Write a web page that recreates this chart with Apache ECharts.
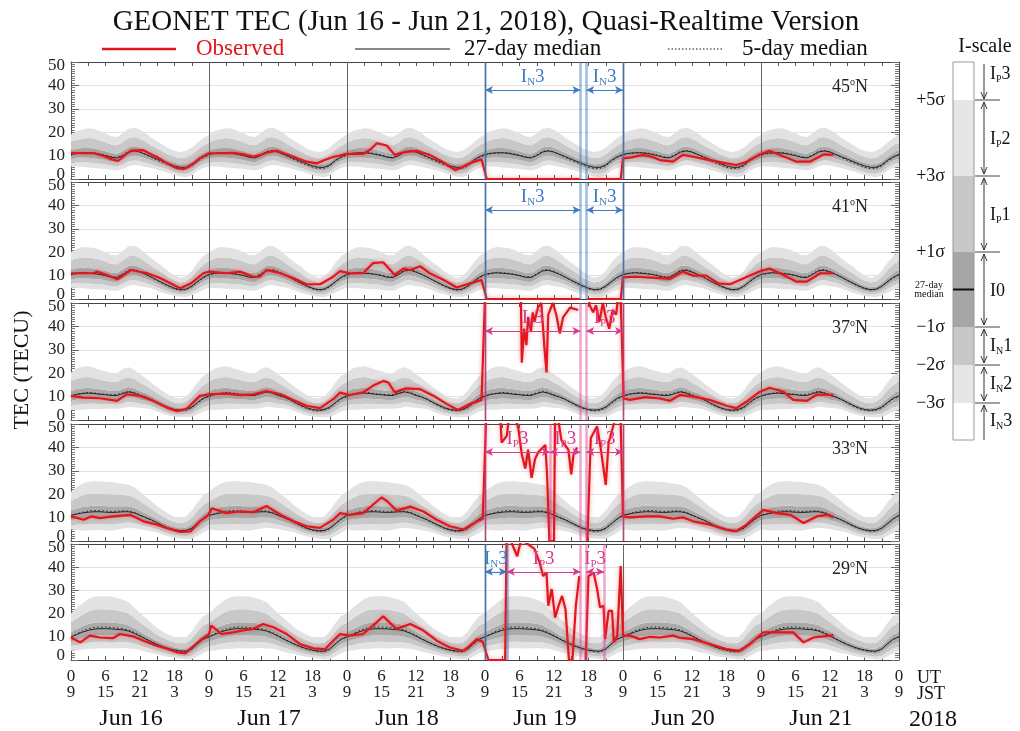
<!DOCTYPE html>
<html>
<head>
<meta charset="utf-8">
<script src="https://cdn.jsdelivr.net/npm/echarts@6/dist/echarts.min.js"></script>
<style>
  html, body { margin: 0; padding: 0; background: #fff; }
  #chart { width: 1020px; height: 731px; }
</style>
</head>
<body>
<div id="chart"></div>
<script>
// hourly profiles (UT 0..23), repeated for every day
const median45 = [10.5, 11, 11.2, 11.2, 11, 10.5, 10, 9.3, 9, 10, 11.5, 12, 11.5, 10.5, 9.5, 8.5, 7.5, 6.5, 5.6, 5, 5, 6, 8, 9.5];
const sigma45 = [1.7, 1.9, 2.0, 2.1, 2.1, 2.0, 1.9, 1.8, 1.8, 1.9, 2.0, 2.0, 1.9, 1.8, 1.6, 1.5, 1.4, 1.3, 1.3, 1.3, 1.4, 1.5, 1.5, 1.6];
const five45 = [10.2, 10.8, 11.0, 11.3, 11.2, 10.8, 10.2, 9.5, 9.2, 10.3, 11.8, 12.2, 11.6, 10.4, 9.2, 8.0, 7.0, 6.0, 5.0, 4.5, 4.6, 5.6, 7.6, 9.2];

const median41 = [10.5, 11, 11.2, 11, 10.8, 10.5, 10, 9.3, 9.2, 10.5, 12, 12.3, 11.5, 10.5, 9.3, 8, 6.8, 5.6, 4.6, 4, 4.2, 5.5, 7.5, 9.3];
const sigma41 = [1.9, 2.1, 2.2, 2.2, 2.2, 2.1, 2.0, 1.9, 1.9, 2.0, 2.1, 2.1, 2.0, 1.8, 1.6, 1.5, 1.4, 1.2, 1.1, 1.0, 1.1, 1.3, 1.6, 1.8];
const five41 = [10.3, 10.8, 11.4, 11.3, 11.0, 10.6, 10.2, 9.6, 9.4, 10.8, 12.3, 12.6, 11.8, 10.6, 9.3, 7.9, 6.6, 5.4, 4.3, 3.8, 4.0, 5.3, 7.2, 9.0];

const median37 = [10.3, 11, 11.3, 11.5, 11.3, 11, 10.8, 10.5, 10.5, 11.3, 12, 11.5, 10.5, 9.8, 8.8, 7.5, 6.3, 5.2, 4.5, 4.2, 4.5, 5.5, 7.5, 9.3];
const sigma37 = [2.0, 2.2, 2.3, 2.3, 2.2, 2.1, 2.0, 1.9, 1.9, 2.1, 2.1, 2.0, 1.8, 1.6, 1.4, 1.3, 1.2, 1.1, 1.0, 1.0, 1.1, 1.4, 1.7, 1.9];
const five37 = [10.0, 10.8, 11.5, 11.8, 11.6, 11.2, 11.0, 10.8, 10.9, 11.6, 12.3, 11.8, 10.8, 9.9, 8.7, 7.3, 6.0, 4.9, 4.2, 3.9, 4.2, 5.2, 7.2, 9.0];

const median33 = [11, 11.5, 12, 12.3, 12.5, 12.5, 12.3, 12.2, 12.3, 12.5, 12.5, 12, 11, 10, 9, 7.8, 6.6, 5.5, 4.8, 4.4, 4.5, 5.5, 7.5, 9.5];
const sigma33 = [2.0, 2.3, 2.5, 2.6, 2.6, 2.6, 2.6, 2.6, 2.5, 2.4, 2.3, 2.2, 2.0, 1.8, 1.6, 1.4, 1.3, 1.2, 1.1, 1.1, 1.2, 1.5, 1.8, 2.0];
const five33 = [10.8, 11.6, 12.3, 12.8, 13.0, 13.0, 12.8, 12.6, 12.7, 12.9, 12.8, 12.3, 11.2, 10.0, 8.9, 7.6, 6.4, 5.3, 4.5, 4.1, 4.3, 5.3, 7.3, 9.3];

const median29 = [10, 11, 12, 12.8, 13.3, 13.5, 13.5, 13.4, 13.2, 13, 12.5, 11.5, 10.3, 9, 7.8, 6.7, 5.7, 4.9, 4.3, 3.9, 3.8, 4.8, 7, 9];
const sigma29 = [2.0, 2.3, 2.5, 2.7, 2.8, 2.8, 2.8, 2.8, 2.7, 2.6, 2.5, 2.2, 2.0, 1.8, 1.6, 1.4, 1.3, 1.2, 1.1, 1.1, 1.2, 1.5, 1.8, 2.0];
const five29 = [10.0, 11.3, 12.5, 13.4, 14.0, 14.2, 14.2, 14.0, 13.8, 13.5, 12.9, 11.9, 10.6, 9.2, 7.9, 6.7, 5.6, 4.7, 4.1, 3.6, 3.5, 4.6, 6.9, 8.9];

// observed TEC, [hours since Jun 16 00UT, TECU]; '-' = no data
const observed45 = [[0,11.2],[2,11],[4,11],[5.5,10],[7,8.5],[8.2,7.7],[9.5,10.5],[10.5,12.1],[12.6,12.3],[14,10.5],[14.9,9.5],[16.5,7],[18.4,4.6],[19.5,4.2],[20.1,4.8],[21.5,7],[22.4,8.8],[24,11],[26,11],[28.2,11.2],[30,10.5],[31.7,9.5],[33,10.3],[34,11.2],[35.8,12.1],[37,11],[38.7,9.5],[41,7.4],[42.8,6.7],[44,8],[45.7,9.5],[47.9,10.7],[50.8,10.7],[52,12.5],[53.2,15.3],[54.9,14.3],[56.3,10.3],[58,11.5],[60.1,12],[62.4,10.3],[64.5,7.5],[66.8,3.8],[68,5],[69.4,6.7],[71.4,8.4],[72.3,0],[88.5,0],[89,'-'],[89.8,0],[95.6,0],[96,8.8],[97.2,9.1],[99.5,10.3],[101,9.5],[102.4,8.1],[104.7,7.4],[106.4,10.3],[108.2,9.5],[111.1,8.1],[114,6.7],[115.7,6],[117.5,7.4],[119.8,10.5],[121.5,12.1],[123.3,10.3],[126.2,7.4],[128.5,7.4],[130.9,10.5],[132.6,10.3]];
const observed41 = [[0,11],[2,11],[3.9,11],[4.5,11.7],[6,10.5],[8.1,8.4],[10.4,12.4],[13.3,11],[15.6,8.9],[17.9,6],[19,4.6],[20.8,6.6],[23,11],[24,11.7],[27,11],[29.4,11.7],[31.7,9.5],[32.8,9.5],[34,12.4],[36.4,11],[38.7,8.9],[41,6.3],[43.3,6.3],[45.6,9.5],[46.8,11.9],[48.4,11],[50.8,11],[52.5,15.3],[54.3,15.7],[56.3,10.3],[57.8,13],[59,12.4],[60.7,14],[62.4,11],[64.8,8.1],[67.1,4.9],[69.4,6.7],[71.4,8.1],[72.3,0],[88.5,0],[89,'-'],[89.8,0],[95.6,0],[96,9.2],[98,9.5],[100,9.3],[102.4,8.9],[104.2,8.6],[106.4,11.7],[108.2,10],[110.5,10],[112.6,6.7],[114.6,6.3],[117,8.9],[119.8,11.9],[121.5,13],[123.9,10.3],[126.2,7.4],[128,7.4],[130.3,11],[132.6,11]];
const observed37 = [[0,10.3],[2.2,9.6],[5,9.3],[8,8.2],[9.7,11],[12,10.3],[14.3,8.2],[16.6,5.4],[18.4,3.8],[20.1,4.8],[22.4,10.3],[24,11],[27,11.3],[29.4,10.6],[31.7,11],[34,12.4],[36.4,11],[38.7,8.5],[41,6.1],[43.3,5.1],[45.6,8.9],[46.8,11.7],[48.4,10.7],[50.8,11.8],[52.5,14.6],[54.3,16.7],[55.2,16],[56.3,11.8],[58.3,13.5],[60.7,13.2],[63,10.4],[65.3,6.9],[67.3,4.3],[69.4,6.9],[71.4,8.6],[72.1,60],[78.2,60],[78.4,24.5],[78.8,39],[79.2,32],[79.5,44],[80,38],[80.3,46],[80.6,42],[81.2,48],[81.8,50],[82.3,32],[82.7,20.3],[83,45],[83.8,50],[84.4,45],[85,37],[85.6,44],[86.8,48],[88.2,47],[88.9,'-'],[89.8,60],[90.2,49],[90.8,46],[91.3,49],[91.9,42],[92.5,50],[93,44],[93.6,39],[94.2,47],[94.8,45],[95.5,60],[96.1,9.2],[97.2,8.6],[99.9,9.8],[102.4,9.2],[104.2,8.2],[105.9,10.7],[108.2,10],[111.1,8.6],[114,6.1],[115.7,5.1],[117.5,7.9],[119.8,12.1],[121.5,13.8],[123.9,12.1],[125.6,8.6],[128,8.2],[129.7,10.9],[132.6,10.7]];
const observed33 = [[0,10.5],[2.2,9.1],[3.5,10.5],[5,9.8],[7.3,10.5],[10.3,11.2],[12.6,8.4],[14.9,7],[16.6,5.6],[19,3.9],[20.8,4.1],[22.4,8.4],[23.9,11.2],[24.5,14],[27,11.9],[29.4,12.6],[31.7,12.3],[34,15],[36.4,11.2],[38.7,8.4],[41,6.3],[43.3,5.6],[45.6,9.1],[46.8,11.9],[48.4,11.2],[50.8,11.9],[54,18.6],[55,17],[56.6,13],[59,14.7],[61.3,12.6],[63.6,9.1],[65.9,6.3],[68.3,4.9],[70.6,8.4],[71.6,9.5],[72.3,60],[74.5,60],[74.9,42],[75.8,45],[76.5,60],[77.8,48],[78.4,37],[79,31],[79.5,39],[80.1,27],[80.7,35],[81.3,38],[82.5,41],[82.8,28],[83.2,0],[84,0],[84.2,60],[85.3,43],[86.5,39],[87,28.5],[87.4,37],[88,40],[88.6,'-'],[89.8,0],[90.4,44],[91.5,49],[92.1,40],[93,24],[93.5,42],[94.4,50],[95.5,60],[96,10.5],[97.2,10.1],[99.9,10.5],[102.4,10.5],[104.7,9.5],[106.4,10.1],[108.2,8.4],[111.1,7],[114,4.9],[115.7,4.2],[117.5,7],[120.4,13.3],[122.7,11.9],[125.1,11.2],[127.4,7.7],[129.7,10.5],[131.5,11.2],[132.6,10.1]];
const observed29 = [[0,9.7],[1.6,7.6],[3.3,10.5],[5,9.7],[7.3,9.4],[8.5,11.2],[10.8,10.2],[12.6,8.3],[14.9,6.2],[16.6,5],[18.4,3.3],[19.9,2.8],[21,5.4],[22.4,8.3],[24,11.2],[24.4,14.8],[26.2,11.2],[28.2,11.9],[29.9,12.7],[31.7,13.4],[33.4,15.5],[35.2,14.1],[37.5,11.2],[39.8,6.9],[42.2,5],[44.2,4.7],[45.6,8.3],[46.8,11.2],[48.4,10.5],[50.8,11.2],[52.5,14.8],[54.3,18.8],[56.6,13.4],[59,15.5],[61.3,12.7],[63.6,8.3],[65.9,5.4],[68.3,4],[70.6,9],[71.6,7.9],[72.6,0],[75.5,0],[75.8,60],[76.7,50],[77.6,44.7],[78.3,52],[80.6,47.9],[81.5,42],[82.1,36.2],[82.7,37.6],[83,23.4],[83.6,30.6],[84.2,18.3],[84.8,23.4],[85.4,27.6],[86,21.9],[86.6,0],[87.2,0],[87.8,23.4],[88.4,36.2],[88.7,'-'],[89.5,0],[90,36.2],[90.9,37.6],[91.5,30.6],[92,22.7],[92.6,23.4],[92.9,9],[93.5,21.2],[94.1,21.2],[94.4,7.6],[95,10.5],[95.6,40.5],[96,10.5],[97.2,10.5],[98.9,9],[100.7,10],[102.4,9.7],[104.7,10.5],[106,9.5],[108.2,9],[111.1,6.9],[114,4.7],[116.3,4],[118.1,6.9],[120.4,11.9],[122.7,11.9],[125.6,11.9],[127.4,7.6],[129.1,9.7],[132.6,10.7]];

// I-scale annotations: [start hour, end hour, 'N' negative / 'P' positive]
const marks45 = [[72, 88.6, 'N'], [89.6, 96, 'N']];
const marks41 = [[72, 88.6, 'N'], [89.6, 96, 'N']];
const marks37 = [[72, 88.6, 'P'], [89.6, 96, 'P']];
const marks33 = [[72, 83.3, 'P'], [83.3, 88.6, 'P'], [89.6, 96, 'P']];
const marks29 = [[72, 75.8, 'N'], [75.8, 88.6, 'P'], [89.6, 92.7, 'P']];

const latitudes = ['45', '41', '37', '33', '29'];
const dayNames = ['Jun 16', 'Jun 17', 'Jun 18', 'Jun 19', 'Jun 20', 'Jun 21'];
const dayLines = [24, 48, 72, 96, 120];
const sigmaLevels = [-3, -2, -1, 1, 3, 5];

const FONT = '"Liberation Serif", "DejaVu Serif", serif';
const RED = '#e3161d';
const BLUE = '#3d7cc0';
const PINK = '#d63b8e';
const bandColors = ['#e2e2e2', '#c8c8c8', '#aaaaaa', '#c8c8c8', '#e2e2e2'];

const medians = [median45, median41, median37, median33, median29];
const sigmas = [sigma45, sigma41, sigma37, sigma33, sigma29];
const fives = [five45, five41, five37, five33, five29];
const observeds = [observed45, observed41, observed37, observed33, observed29];
const marks = [marks45, marks41, marks37, marks33, marks29];

const tops = [62, 182, 303, 424, 544];
const PH = 117;
const totalHours = dayNames.length * 24;

const chart = echarts.init(document.getElementById('chart'));
const grids = [], xAxes = [], yAxes = [], series = [], graphics = [];

const subRich = {
  m: { fontFamily: FONT, fontSize: 19, lineHeight: 22 },
  s: { fontFamily: FONT, fontSize: 11, lineHeight: 11, verticalAlign: 'bottom' }
};

const hours = [];
for (let h = 0; h <= totalHours; h++) hours.push(h);

latitudes.forEach((lat, i) => {
  const last = i === latitudes.length - 1;
  grids.push({ left: 71, width: 828, top: tops[i], height: PH });

  xAxes.push({
    gridIndex: i, type: 'value', min: 0, max: totalHours, interval: 3, position: 'bottom',
    axisLine: { show: true, onZero: false, lineStyle: { color: '#444' } },
    axisTick: { inside: true, length: 4, lineStyle: { color: '#555' } },
    splitLine: { show: false },
    axisLabel: {
      show: last, margin: 9, color: '#222', fontFamily: FONT, fontSize: 17, lineHeight: 16,
      formatter: h => h % 6 ? '' : (h % 24) + '\n' + ((h + 9) % 24)
    }
  });
  xAxes.push({
    gridIndex: i, type: 'value', min: 0, max: totalHours, interval: 24, position: 'top',
    axisLine: { show: true, onZero: false, lineStyle: { color: '#444' } },
    axisTick: { inside: true, length: 4, lineStyle: { color: '#555' } },
    minorTick: { show: true, splitNumber: 8, length: 4, lineStyle: { color: '#555' } },
    splitLine: { show: false },
    axisLabel: { show: false }
  });

  const yBase = {
    gridIndex: i, type: 'value', min: 0, max: 50, interval: 10,
    axisLine: { show: true, onZero: false, lineStyle: { color: '#444' } },
    axisTick: { inside: true, length: 8, lineStyle: { color: '#666' } },
    minorTick: { show: true, splitNumber: 10, length: 4, lineStyle: { color: '#777' } }
  };
  yAxes.push(Object.assign({}, yBase, {
    position: 'left',
    splitLine: { show: true, lineStyle: { color: '#e2e2e2' } },
    axisLabel: {
      margin: 6, color: '#222', fontFamily: FONT, fontSize: 17,
      formatter: v => v === 0 ? '{lo|0}' : v === 50 ? '{hi|50}' : String(v),
      rich: {
        lo: { fontFamily: FONT, fontSize: 17, padding: [0, 0, 9, 0] },
        hi: { fontFamily: FONT, fontSize: 17, padding: [7, 0, 0, 0] }
      }
    }
  }));
  yAxes.push(Object.assign({}, yBase, {
    position: 'right', splitLine: { show: false }, axisLabel: { show: false }
  }));

  const med = medians[i], sig = sigmas[i], five = fives[i];

  // sigma bands between consecutive levels, drawn as polygons through the axes
  series.push({
    type: 'custom', xAxisIndex: 2 * i, yAxisIndex: 2 * i, silent: true, z: 1, clip: true,
    data: bandColors.map((c, j) => [j]),
    renderItem: (params, api) => {
      const j = api.value(0);
      const up = [], down = [];
      hours.forEach(h => {
        const k = h % 24;
        up.push(api.coord([h, med[k] + sigmaLevels[j + 1] * sig[k]]));
        down.push(api.coord([h, med[k] + sigmaLevels[j] * sig[k]]));
      });
      return { type: 'polygon', shape: { points: up.concat(down.reverse()) }, style: { fill: bandColors[j] } };
    }
  });

  series.push({
    name: '27-day median', type: 'line', xAxisIndex: 2 * i, yAxisIndex: 2 * i,
    data: hours.map(h => [h, med[h % 24]]), symbol: 'none', silent: true, z: 3,
    lineStyle: { color: '#222', width: 1 },
    markLine: {
      silent: true, symbol: ['none', 'none'], label: { show: false },
      lineStyle: { color: '#666', width: 1, type: 'solid' },
      data: dayLines.map(x => ({ xAxis: x }))
    }
  });
  series.push({
    name: '5-day median', type: 'line', xAxisIndex: 2 * i, yAxisIndex: 2 * i,
    data: hours.map(h => [h, five[h % 24]]), symbol: 'none', silent: true, z: 3,
    lineStyle: { color: '#222', width: 1, type: [1.5, 2.5] }
  });

  // annotation lines and arrows
  const mk = marks[i];
  const edges = [];
  mk.forEach(m => {
    [m[0], m[1]].forEach(x => { if (!edges.some(e => e.x === x)) edges.push({ x, t: m[2] }); });
  });
  const mlData = edges.map(e => ({
    xAxis: e.x,
    lineStyle: { color: e.t === 'N' ? 'rgba(61,124,192,0.5)' : 'rgba(214,59,142,0.45)', width: 2.5, type: 'solid' }
  }));
  mk.forEach(m => {
    const c = m[2] === 'N' ? BLUE : PINK;
    mlData.push([
      { coord: [m[0], 38], symbol: 'arrow', symbolSize: [6, 8] },
      {
        coord: [m[1], 38], symbol: 'arrow', symbolSize: [6, 8],
        lineStyle: { color: c, width: 1.2, type: 'solid' },
        label: {
          show: true, position: 'insideMiddleTop', distance: 2, color: c,
          formatter: '{m|I}{s|' + m[2] + '}{m|3}', rich: subRich
        }
      }
    ]);
  });

  series.push({
    name: 'Observed', type: 'line', xAxisIndex: 2 * i, yAxisIndex: 2 * i,
    data: observeds[i], symbol: 'none', silent: true, z: 5, clip: true,
    lineStyle: { color: RED, width: 2.2, shadowColor: 'rgba(227,22,29,0.45)', shadowBlur: 4 },
    markLine: {
      silent: true, symbol: ['none', 'none'], z: 6,
      label: { show: false },
      data: mlData
    }
  });

  graphics.push({
    type: 'text', x: 868, y: tops[i] + 25, z: 10,
    style: {
      text: '{n|' + lat + '}{o|o}{n|N}', align: 'right', verticalAlign: 'middle',
      rich: {
        n: { fontFamily: FONT, fontSize: 18, lineHeight: 20, fill: '#222' },
        o: { fontFamily: FONT, fontSize: 10, lineHeight: 10, verticalAlign: 'top', fill: '#222' }
      }
    }
  });
});

// day names under the bottom panel
xAxes.push({
  gridIndex: latitudes.length - 1, type: 'value', min: 0, max: totalHours, interval: 12,
  position: 'bottom', offset: 46,
  axisLine: { show: false }, axisTick: { show: false }, splitLine: { show: false },
  axisLabel: {
    color: '#111', fontFamily: FONT, fontSize: 24, margin: 1, padding: [0, 18, 0, 0],
    formatter: h => h % 24 === 12 ? dayNames[(h - 12) / 24] : ''
  }
});

function text(x, y, str, size, opts) {
  return {
    type: 'text', x, y, z: 10,
    style: Object.assign({ text: str, fontFamily: FONT, fontSize: size, fill: '#111', align: 'left', verticalAlign: 'middle' }, opts || {})
  };
}
function line(x1, y1, x2, y2, stroke, w, dash) {
  return { type: 'line', z: 10, shape: { x1, y1, x2, y2 }, style: { stroke, lineWidth: w || 1, lineDash: dash || null } };
}
function head(x, y, dir) {
  // open arrow head pointing up (dir=-1) or down (dir=1)
  return { type: 'polyline', z: 10, shape: { points: [[x - 3, y - dir * 7], [x, y], [x + 3, y - dir * 7]] }, style: { stroke: '#333', lineWidth: 1, fill: null } };
}

// title and legend
graphics.push(text(486, 22, 'GEONET TEC (Jun 16 - Jun 21, 2018), Quasi-Realtime Version', 29, { align: 'center' }));
graphics.push(line(102, 49, 176, 49, RED, 2.5));
graphics.push(text(196, 49, 'Observed', 23, { fill: RED }));
graphics.push(line(355, 49, 450, 49, '#111', 1));
graphics.push(text(464, 49, '27-day median', 23));
graphics.push(line(668, 49, 724, 49, '#111', 1, [1.5, 2]));
graphics.push(text(742, 49, '5-day median', 23));

graphics.push({
  type: 'text', x: 22, y: 370, rotation: Math.PI / 2, z: 10,
  style: { text: 'TEC (TECU)', fontFamily: FONT, fontSize: 22, fill: '#111', align: 'center', verticalAlign: 'middle' }
});

graphics.push(text(917, 678, 'UT', 18));
graphics.push(text(917, 694, 'JST', 18));
graphics.push(text(909, 720, '2018', 24));

// I-scale legend
const scaleY = [62, 100, 176, 252, 327, 365, 403, 440];
const scaleFill = ['#ffffff', '#e6e6e6', '#c8c8c8', '#a6a6a6', '#c8c8c8', '#e6e6e6', '#ffffff'];
const scaleSigma = ['+5σ', '+3σ', '+1σ', '−1σ', '−2σ', '−3σ'];
graphics.push(text(985, 47, 'I-scale', 20, { align: 'center' }));
scaleFill.forEach((c, k) => {
  graphics.push({ type: 'rect', z: 9, shape: { x: 953, y: scaleY[k], width: 21, height: scaleY[k + 1] - scaleY[k] }, style: { fill: c } });
});
graphics.push({ type: 'rect', z: 10, shape: { x: 953, y: 62, width: 21, height: 378 }, style: { fill: null, stroke: '#999', lineWidth: 1 } });
graphics.push(line(953, 289.5, 974, 289.5, '#111', 2));
scaleSigma.forEach((s, k) => {
  graphics.push(text(945, scaleY[k + 1], s, 18, { align: 'right' }));
  graphics.push(line(975, scaleY[k + 1], 1000, scaleY[k + 1], '#444', 1));
});
graphics.push(text(929, 285, '27-day', 10, { align: 'center' }));
graphics.push(text(929, 294, 'median', 10, { align: 'center' }));

const AX = 984;
graphics.push(line(AX, 64, AX, 99, '#333', 1), head(AX, 99, 1));
[[1, 2], [2, 3], [3, 4], [4, 5], [5, 6]].forEach(p => {
  const a = scaleY[p[0]] + 2, b = scaleY[p[1]] - 2;
  graphics.push(line(AX, a, AX, b, '#333', 1), head(AX, a, -1), head(AX, b, 1));
});
graphics.push(line(AX, 440, AX, 405, '#333', 1), head(AX, 405, -1));

const scaleRich = {
  m: { fontFamily: FONT, fontSize: 18, lineHeight: 20, fill: '#111' },
  s: { fontFamily: FONT, fontSize: 10, lineHeight: 10, verticalAlign: 'bottom', fill: '#111' }
};
[['{m|I}{s|P}{m|3}', 74], ['{m|I}{s|P}{m|2}', 139], ['{m|I}{s|P}{m|1}', 215], ['{m|I0}', 291],
 ['{m|I}{s|N}{m|1}', 346], ['{m|I}{s|N}{m|2}', 384], ['{m|I}{s|N}{m|3}', 421]].forEach(t => {
  graphics.push({ type: 'text', x: 990, y: t[1], z: 10, style: { text: t[0], rich: scaleRich, align: 'left', verticalAlign: 'middle' } });
});

chart.setOption({
  animation: false,
  backgroundColor: '#fff',
  grid: grids,
  xAxis: xAxes,
  yAxis: yAxes,
  series: series,
  graphic: graphics
});
</script>
</body>
</html>
